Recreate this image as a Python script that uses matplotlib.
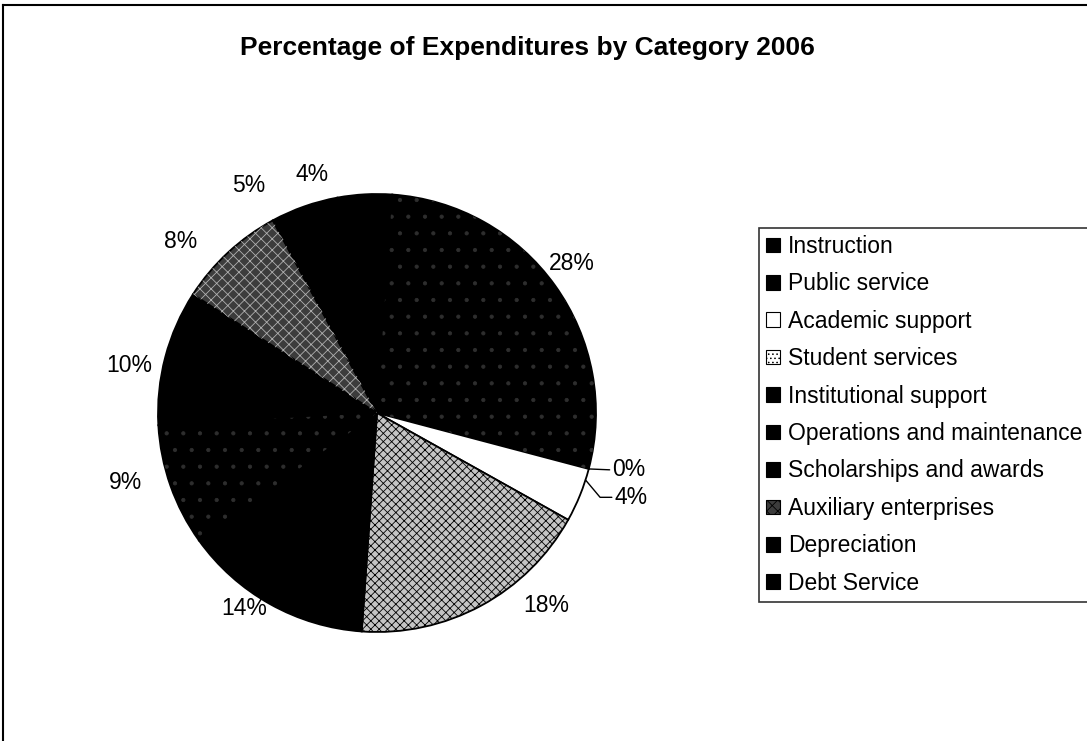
import matplotlib
matplotlib.use("Agg")
import matplotlib.pyplot as plt
import numpy as np
from matplotlib.lines import Line2D
from matplotlib.patches import Patch

# ---- data ----
categories = ["Instruction", "Public service", "Academic support", "Student services",
              "Institutional support", "Operations and maintenance",
              "Scholarships and awards", "Auxiliary enterprises", "Depreciation", "Debt Service"]
shares = [28, 0, 4, 18, 14, 9, 10, 8, 5, 4]
pct_labels = ["28%", "0%", "4%", "18%", "14%", "9%", "10%", "8%", "5%", "4%"]
title = "Percentage of Expenditures by Category 2006"

# ---- styles ----
face_colors = ["black", "black", "white", "#c4c4c4", "black", "black",
               "black", "#3c3c3c", "black", "black"]
hatches = [".", None, None, "xxxx", None, ".", None, "xxx", None, None]
hatch_colors = ["#2e2e2e", None, None, "black", None, "#2e2e2e", None, "#b0b0b0", None, None]
# label placement (layout): angular shift from wedge middle (deg), radius (pie radii)
label_shift = [2, 0, 0, 13, -5, -4, 4, 6, 10, 12]
label_radius = [1.12, 0, 0, 1.17, 1.08, 1.19, 1.15, 1.19, 1.19, 1.13]

plt.rcParams["font.family"] = ["Liberation Sans", "DejaVu Sans"]
plt.rcParams["hatch.linewidth"] = 0.6

W, H = 1087, 741
fig = plt.figure(figsize=(W / 100, H / 100), dpi=100)
fig.patch.set_facecolor("white")

cx, cy, R = 377, 413, 219
half = 300
ax = fig.add_axes([(cx - half) / W, (H - cy - half) / H, 2 * half / W, 2 * half / H])

start = 86
wedges, _ = ax.pie(shares, colors=face_colors, startangle=start, counterclock=False,
                   wedgeprops=dict(edgecolor="black", linewidth=1.3))
over, _ = ax.pie(shares, colors=["none"] * len(shares), startangle=start, counterclock=False,
                 wedgeprops=dict(linewidth=0))
for w, h, hc in zip(over, hatches, hatch_colors):
    if h:
        w.set_hatch(h)
        w.set_edgecolor(hc)
        w.set_linewidth(0)
    else:
        w.set_visible(False)

ax.set_xlim(-half / R, half / R)
ax.set_ylim(-half / R, half / R)
ax.axis("off")

fs = 16.5
for i, w in enumerate(wedges):
    mid = 0.5 * (w.theta1 + w.theta2)
    if label_radius[i] > 0:
        a = np.deg2rad(mid + label_shift[i])
        r = label_radius[i]
        ax.text(r * np.cos(a), r * np.sin(a), pct_labels[i], ha="center", va="center", fontsize=fs)

# leader-line labels for the tiny slices
w0 = wedges[1]
a0 = np.deg2rad(w0.theta1)
ax.annotate(pct_labels[1], xy=(np.cos(a0), np.sin(a0)), xytext=(1.075, -0.26),
            ha="left", va="center", fontsize=fs,
            arrowprops=dict(arrowstyle="-", color="black", lw=1.0, shrinkA=0, shrinkB=0,
                            relpos=(0, 0.5)))
w2 = wedges[2]
a2 = np.deg2rad(w2.theta2 - 3)
ax.annotate(pct_labels[2], xy=(np.cos(a2), np.sin(a2)), xytext=(1.085, -0.385),
            ha="left", va="center", fontsize=fs,
            arrowprops=dict(arrowstyle="-", color="black", lw=1.0, shrinkA=0, shrinkB=0,
                            relpos=(0, 0.5), connectionstyle="angle,angleA=0,angleB=-50,rad=0"))

fig.text(527 / W, 1 - 48 / H, title, ha="center", va="center", fontsize=19, fontweight="bold")

handle_hatch = [None, None, None, "....", None, None, None, "xxx", None, None]
handles = []
for fc, h in zip(face_colors, handle_hatch):
    p = Patch(facecolor=("white" if h == "...." else fc), edgecolor="black", linewidth=0.8)
    if h:
        p.set_hatch(h)
    handles.append(p)
leg = fig.legend(handles, categories, loc="upper left", bbox_to_anchor=(759 / W, 1 - 228 / H),
                 frameon=True, fancybox=False, edgecolor="black", borderaxespad=0,
                 fontsize=fs, handlelength=0.6, handleheight=0.6, handletextpad=0.35,
                 labelspacing=0.63, borderpad=0.3)
leg.get_frame().set_linewidth(1.2)

fig.add_artist(Line2D([3 / W, 3 / W], [0, 1 - 5 / H], transform=fig.transFigure, color="black", lw=1.5))
fig.add_artist(Line2D([3 / W, 1], [1 - 5 / H, 1 - 5 / H], transform=fig.transFigure, color="black", lw=1.5))

fig.savefig("out.png", dpi=100)
